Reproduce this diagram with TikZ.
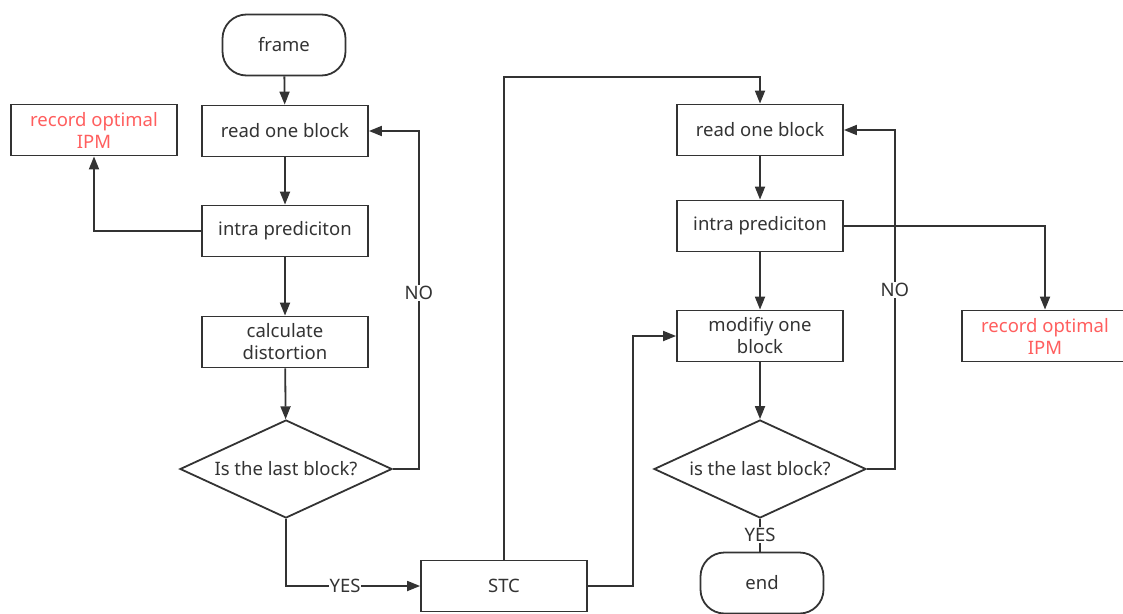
\documentclass[tikz,border=0pt]{standalone}
\usepackage{fontspec}
\setmainfont{Noto Sans}
\usetikzlibrary{shapes.geometric,arrows.meta}
\definecolor{ink}{HTML}{333333}
\definecolor{redtxt}{HTML}{FF5E5E}
\begin{document}
\begin{tikzpicture}[x=1pt,y=-1pt,
  every node/.style={font=\fontsize{18.5}{22}\selectfont, text=ink},
  box/.style={draw=ink, line width=1.8pt, rectangle, minimum width=166pt, minimum height=51pt, inner sep=0pt, align=center},
  term/.style={draw=ink, line width=1.8pt, rectangle, rounded corners=24pt, minimum width=123pt, minimum height=61pt, align=center},
  dec/.style={draw=ink, line width=1.8pt, diamond, aspect=2.16, minimum width=212pt, minimum height=98pt, inner sep=0pt},
  redbox/.style={box, text=redtxt},
  conn/.style={draw=ink, line width=1.8pt},
  arr/.style={conn, -{Triangle[length=13pt,width=10pt]}},
  lbl/.style={fill=white, inner sep=1pt}
]
\useasboundingbox (0,0) rectangle (1123,613);
\clip (0,0) rectangle (1123,613);

% left column
\node[term] (frame) at (284,45) {frame};
\node[box] (r1) at (285,131) {read one block};
\node[box] (i1) at (285,231) {intra prediciton};
\node[box] (c1) at (285,342) {calculate\\distortion};
\node[dec] (d1) at (286,469) {Is the last block?};
\node[redbox] (rec1) at (94,130) {record optimal\\IPM};

% middle
\node[box] (stc) at (504,586) {STC};

% right column
\node[box] (r2) at (760,130) {read one block};
\node[box] (i2) at (760,226) {intra prediciton};
\node[box] (m2) at (760,336) {modifiy one\\block};
\node[dec] (d2) at (760,469) {is the last block?};
\node[redbox] (rec2) at (1045,336) {record optimal\\IPM};
\node[term] (end) at (762,583) {end};

% left connectors
\draw[arr] (frame) -- (r1);
\draw[arr] (r1) -- (i1);
\draw[arr] (i1) -- (c1);
\draw[arr] (c1) -- (d1);
\draw[arr] (i1.west) -| (rec1.south);
\draw[arr] (d1.east) -- ++(26,0) |- node[pos=0.26,lbl]{NO} (r1.east);
\draw[arr] (d1.south) |- node[pos=0.72,lbl]{YES} (stc.west);

% STC connectors
\draw[arr] (stc.north) -- ++(0,-483) -| (r2.north);
\draw[arr] (stc.east) -- ++(45,0) |- (m2.west);

% right connectors
\draw[arr] (r2) -- (i2);
\draw[arr] (i2) -- (m2);
\draw[arr] (m2) -- (d2);
\draw[arr] (i2.east) -| (rec2.north);
\draw[arr] (d2.east) -- ++(28,0) |- node[pos=0.264,lbl]{NO} (r2.east);
\draw[conn] (d2.south) -- node[lbl]{YES} (d2.south |- end.north);
\end{tikzpicture}
\end{document}
